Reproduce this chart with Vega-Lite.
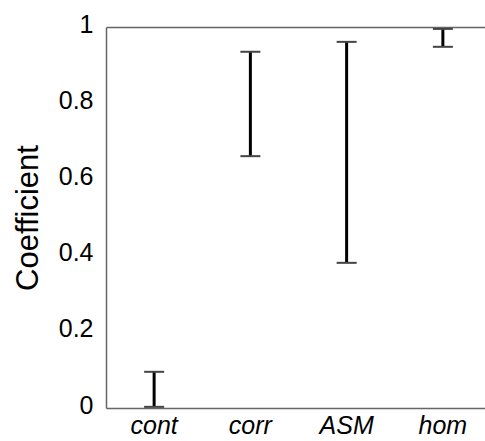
{
  "$schema": "https://vega.github.io/schema/vega-lite/v6.json",
  "autosize": "none",
  "padding": {"left": 106, "top": 27, "right": 0, "bottom": 33},
  "width": 379,
  "height": 381,
  "background": "white",
  "config": {
    "view": {"stroke": null},
    "font": "Liberation Sans"
  },
  "data": {
    "values": [
      {"feature": "cont", "lo": 0.003, "hi": 0.095},
      {"feature": "corr", "lo": 0.661, "hi": 0.935},
      {"feature": "ASM", "lo": 0.381, "hi": 0.961},
      {"feature": "hom", "lo": 0.948, "hi": 0.995}
    ]
  },
  "resolve": {"axis": {"x": "independent"}},
  "layer": [
    {
      "mark": {"type": "rule", "color": "black", "strokeWidth": 3},
      "encoding": {
        "x": {
          "field": "feature",
          "type": "nominal",
          "sort": null,
          "scale": {"paddingInner": 0, "paddingOuter": 0, "range": [0, 385]},
          "axis": {
            "title": null,
            "labelAngle": 0,
            "labelFontSize": 25,
            "labelFontStyle": "italic",
            "labelColor": "black",
            "labelPadding": 5,
            "ticks": false,
            "domainColor": "#666",
            "domainWidth": 1.5
          }
        },
        "y": {
          "field": "lo",
          "type": "quantitative",
          "scale": {"domain": [0, 1], "nice": false},
          "axis": {
            "title": "Coefficient",
            "titleFontSize": 31,
            "titleFontWeight": "normal",
            "titleColor": "black",
            "titlePadding": 14,
            "values": [0, 0.2, 0.4, 0.6, 0.8, 1],
            "format": "~g",
            "labelFontSize": 25,
            "labelColor": "black",
            "labelPadding": 13,
            "labelOffset": -3,
            "ticks": false,
            "grid": false,
            "domainColor": "#666",
            "domainWidth": 1.5
          }
        },
        "y2": {"field": "hi"}
      }
    },
    {
      "mark": {"type": "tick", "color": "#444", "size": 20, "thickness": 2, "opacity": 1},
      "encoding": {
        "x": {
          "field": "feature",
          "type": "nominal",
          "sort": null,
          "axis": {
            "orient": "top",
            "title": null,
            "labels": false,
            "ticks": false,
            "domainColor": "#666",
            "domainWidth": 1.5
          }
        },
        "y": {"field": "lo", "type": "quantitative"}
      }
    },
    {
      "mark": {"type": "tick", "color": "#444", "size": 20, "thickness": 2, "opacity": 1},
      "encoding": {
        "x": {"field": "feature", "type": "nominal", "sort": null, "axis": null},
        "y": {"field": "hi", "type": "quantitative"}
      }
    }
  ]
}
